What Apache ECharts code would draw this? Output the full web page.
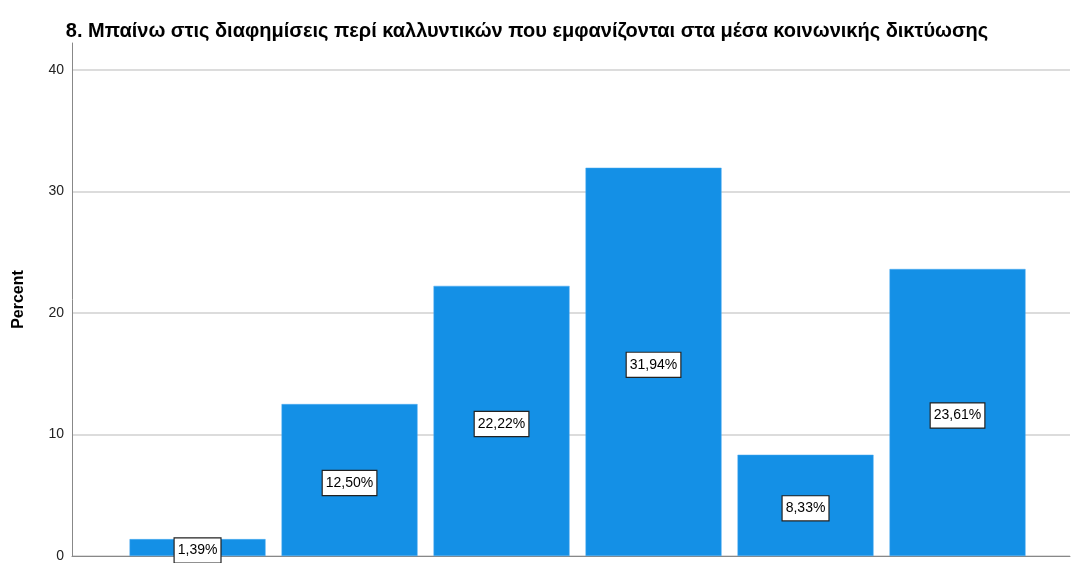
<!DOCTYPE html>
<html>
<head>
<meta charset="utf-8">
<script src="https://cdn.jsdelivr.net/npm/echarts@6/dist/echarts.min.js"></script>
<style>
html,body{margin:0;padding:0;background:#fff;}
#chart{width:1073px;height:563px;}
</style>
</head>
<body>
<div id="chart"></div>
<script>
const titleText = "8. Μπαίνω στις διαφημίσεις περί καλλυντικών που εμφανίζονται στα μέσα κοινωνικής δικτύωσης";
const positions = [1, 2, 3, 4, 5, 6];
const percents = [1.39, 12.50, 22.22, 31.94, 8.33, 23.61];
const yTicks = [0, 10, 20, 30, 40];

const chart = echarts.init(document.getElementById('chart'));
chart.setOption({
  animation: false,
  backgroundColor: '#ffffff',
  title: {
    text: titleText,
    left: 522, top: 16,
    textAlign: 'center',
    textStyle: {fontFamily: 'Liberation Sans, Arial, sans-serif', fontSize: 20, fontWeight: 'bold', color: '#000'}
  },
  grid: {left: 72, right: 3, top: 43, bottom: 5, containLabel: false},
  xAxis: {
    type: 'value', min: 0.174, max: 6.74,
    axisLine: {show: true, onZero: false, lineStyle: {color: '#888', width: 1}},
    axisTick: {show: false}, axisLabel: {show: false}, splitLine: {show: false}
  },
  yAxis: {
    type: 'value', min: 0, max: 42.2, interval: 10,
    name: 'Percent', nameLocation: 'middle', nameGap: 45, nameRotate: 90,
    nameTextStyle: {fontFamily: 'Liberation Sans, Arial, sans-serif', fontSize: 16, fontWeight: 'bold', color: '#000'},
    axisLine: {show: true, lineStyle: {color: '#888', width: 1}},
    axisTick: {show: false},
    axisLabel: {
      color: '#222', fontSize: 14, fontFamily: 'Liberation Sans, Arial, sans-serif', margin: 8,
      showMaxLabel: false,
      formatter: v => yTicks.includes(v) ? String(v) : ''
    },
    splitLine: {show: true, showMaxLine: false, lineStyle: {color: '#d0d0d0', width: 1.5}}
  },
  series: [{
    type: 'bar',
    data: percents.map((v, i) => [positions[i], v]),
    barWidth: 136,
    itemStyle: {color: '#1490E6', borderColor: '#4aaaf0', borderWidth: 0.5},
    label: {
      show: true, position: 'inside', offset: [0, 3],
      formatter: p => p.value[1].toFixed(2).replace('.', ',') + '%',
      color: '#000', fontSize: 14, lineHeight: 16, fontFamily: 'Liberation Sans, Arial, sans-serif',
      backgroundColor: '#fff', borderColor: '#222', borderWidth: 1.2, padding: [4, 3, 4, 3]
    }
  }]
});
</script>
</body>
</html>
